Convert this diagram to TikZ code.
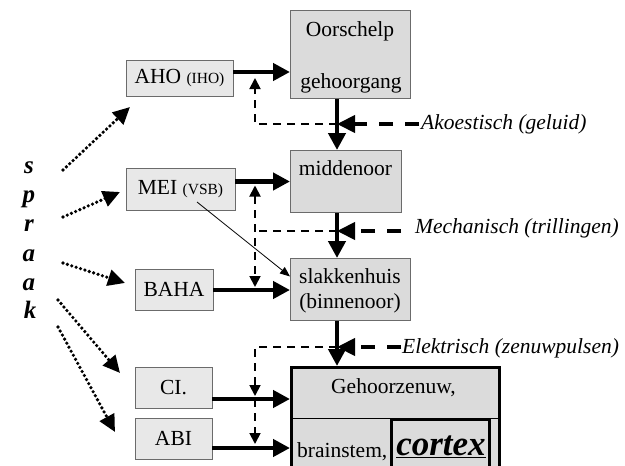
\documentclass[tikz,border=0pt]{standalone}
\usepackage{fontspec}
\setmainfont{Liberation Serif}
\usetikzlibrary{arrows.meta}

\definecolor{boxfill}{gray}{0.86}
\definecolor{smallfill}{gray}{0.91}
\definecolor{boxline}{gray}{0.42}

\tikzset{
  bigbox/.style={draw=boxline, fill=boxfill, line width=0.9pt, inner sep=0pt, anchor=north west},
  smallbox/.style={draw=boxline, fill=smallfill, line width=0.9pt, inner sep=0pt},
  lbl/.style={inner sep=0pt, font=\fontsize{21.5}{25}\selectfont},
  medium/.style={inner sep=0pt, font=\fontsize{21.5}{25}\selectfont\itshape},
  letter/.style={inner sep=0pt, anchor=base, font=\fontsize{25}{28}\selectfont\bfseries\itshape},
  flow/.style={line width=4.5pt, -{Triangle[length=17pt,width=17pt]}},
  signal/.style={line width=4pt, dash pattern=on 14pt off 12pt, -{Triangle[length=18pt,width=17pt]}},
  feedback/.style={line width=1.8pt, dash pattern=on 8pt off 6pt},
  fbtip/.style={-{Triangle[length=11pt,width=11pt]}},
  speech/.style={line width=3.6pt, line cap=round, dash pattern=on 0pt off 4.6pt, -{Triangle[length=17pt,width=16pt]}},
}

\begin{document}
\begin{tikzpicture}[x=1pt, y=-1pt]
  \useasboundingbox (0,0) rectangle (625,466);
  % rows of the horizontal arrows and the vertical spine
  \coordinate (rowaho) at (0,72);
  \coordinate (rowmei) at (0,181.5);
  \coordinate (rowbaha) at (0,290);
  \coordinate (rowci) at (0,399);
  \coordinate (rowabi) at (0,448);
  \coordinate (split) at (0,418);
  \coordinate (spine) at (337,0);

  % the ear
  \node[bigbox, minimum width=120pt, minimum height=88pt] (oor) at (290,10) {};
  \node[bigbox, minimum width=111pt, minimum height=62pt] (mid) at (290,150) {};
  \node[bigbox, minimum width=120pt, minimum height=62pt] (slak) at (290,258) {};
  \node[bigbox, draw=black, line width=2.5pt, minimum width=208pt, minimum height=104pt] (gz) at (290,366) {};
  \draw[black, line width=1pt] (gz.west |- split) -- (gz.east |- split);
  \node[draw=black, line width=2.5pt, inner sep=0pt, anchor=north west, minimum width=98pt, minimum height=60pt] (ctxbox) at (390,418) {};

  \node[lbl, anchor=base] (oortop) at (350,36) {Oorschelp};
  \node[lbl, anchor=base] (oorbot) at (351,88) {gehoorgang};
  \node[lbl, anchor=base] (midtxt) at (345.5,175) {middenoor};
  \node[lbl, anchor=base] (slaktop) at (350,283) {slakkenhuis};
  \node[lbl, anchor=base] (slakbot) at (350,308) {(binnenoor)};
  \node[lbl, anchor=base] (gztxt) at (393.5,393) {Gehoorzenuw,};
  \node[lbl, anchor=base west] (brain) at (297,457) {brainstem,};
  \node[inner sep=0pt, anchor=base, font=\fontsize{35}{40}\selectfont\bfseries\itshape] (ctx) at (441,455) {\underline{cortex}};

  % the aids
  \node[smallbox, lbl, minimum width=107pt, minimum height=36pt] (aho) at (179.5,78) {AHO {\fontsize{15.5}{18}\selectfont (IHO)}};
  \node[smallbox, lbl, minimum width=109pt, minimum height=42pt] (mei) at (180.5,189) {MEI {\fontsize{15.5}{18}\selectfont (VSB)}};
  \node[smallbox, lbl, minimum width=78pt, minimum height=41pt] (baha) at (174,289.5) {BAHA};
  \node[smallbox, lbl, minimum width=77pt, minimum height=41pt] (ci) at (173.5,387.5) {CI.};
  \node[smallbox, lbl, minimum width=77pt, minimum height=41pt] (abi) at (173.5,438.5) {ABI};

  \draw[flow] (aho.east |- rowaho) -- (oor.west |- rowaho);
  \draw[flow] (mei.east |- rowmei) -- (mid.west |- rowmei);
  \draw[flow] (baha.east |- rowbaha) -- (slak.west |- rowbaha);
  \draw[flow] (ci.east |- rowci) -- (gz.west |- rowci);
  \draw[flow] (abi.east |- rowabi) -- (gz.west |- rowabi);

  \draw[flow] (oor.south -| spine) -- (mid.north -| spine);
  \draw[flow] (mid.south -| spine) -- (slak.north -| spine);
  \draw[flow] (slak.south -| spine) -- (gz.north -| spine);

  % signal forms with feedback
  \node[medium, anchor=west] (akoe) at (421,124) {Akoestisch (geluid)};
  \node[medium, anchor=base west] (mech) at (415,233) {Mechanisch (trillingen)};
  \node[medium, anchor=base west] (elek) at (402,353) {Elektrisch (zenuwpulsen)};

  \coordinate (akin) at (419,124);
  \coordinate (akfb) at (255,124);
  \draw[signal] (akin) -- (spine |- akin);
  \draw[feedback, fbtip] (spine |- akin) -- (akfb) -- ([yshift=-6pt]akfb |- rowaho);

  \coordinate (mein) at (401,231);
  \coordinate (mefb) at (255,231);
  \draw[signal] (mein) -- (spine |- mein);
  \draw[feedback] (spine |- mein) -- (mefb);
  \draw[feedback, {Triangle[length=11pt,width=11pt]}-{Triangle[length=11pt,width=11pt]}] ([yshift=-4pt]mefb |- rowmei) -- ([yshift=3pt]mefb |- rowbaha);

  \coordinate (elin) at (401,347);
  \coordinate (elfb) at (255,347);
  \draw[signal] (elin) -- (spine |- elin);
  \draw[feedback, fbtip] (spine |- elin) -- (elfb) -- ([yshift=3pt]elfb |- rowci);
  \draw[feedback, fbtip] (elfb |- rowci) -- ([yshift=4pt]elfb |- rowabi);

  \coordinate (vsb) at (197,202);
  \draw[line width=0.8pt, -{Triangle[length=10pt,width=8pt]}] (vsb) -- ([yshift=13pt]slak.west);

  % spraak
  \node[letter] (l1) at (29,173) {s};
  \node[letter] (l2) at (29,202) {p};
  \node[letter] (l3) at (29,231) {r};
  \node[letter] (l4) at (29,261) {a};
  \node[letter] (l5) at (29,290) {a};
  \node[letter] (l6) at (30,318) {k};

  \coordinate (sp1) at (63,170);
  \coordinate (sp2) at (63,217);
  \coordinate (sp3) at (63,263);
  \coordinate (sp4) at (58,300);
  \coordinate (sp5) at (58,327);
  \coordinate (to1) at (130,107);
  \coordinate (to2) at (120,192);
  \coordinate (to3) at (125,283);
  \coordinate (to4) at (120,373);
  \coordinate (to5) at (115,432);
  \draw[speech] (sp1) -- (to1);
  \draw[speech] (sp2) -- (to2);
  \draw[speech] (sp3) -- (to3);
  \draw[speech] (sp4) -- (to4);
  \draw[speech] (sp5) -- (to5);
\end{tikzpicture}
\end{document}
